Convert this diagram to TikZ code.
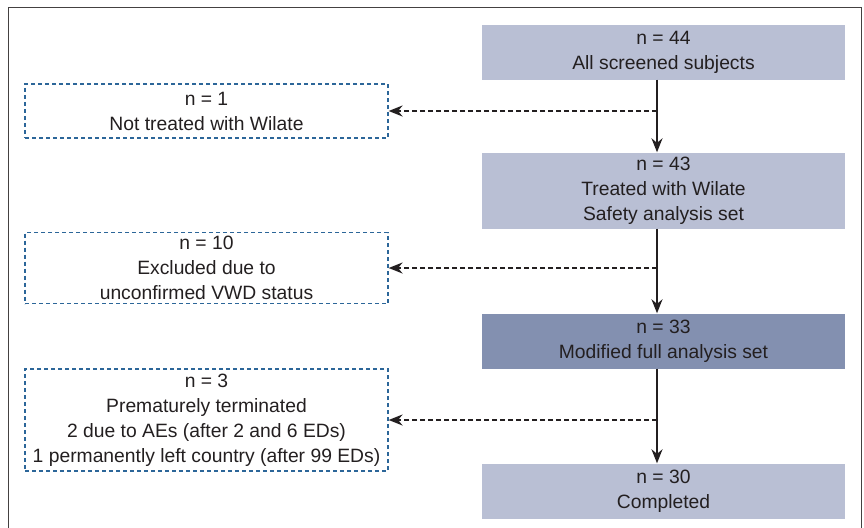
\documentclass[tikz,border=0pt]{standalone}
\usepackage{fontspec}
\setmainfont{Liberation Sans}
\usetikzlibrary{arrows.meta}
\definecolor{boxlight}{HTML}{B9BFD4}
\definecolor{boxdark}{HTML}{8390B0}
\definecolor{dashblue}{HTML}{2C6699}
\definecolor{ink}{HTML}{231F20}
\tikzset{
  mainbox/.style={fill=boxlight, draw=none, minimum width=363pt, align=center, inner sep=0pt, text=ink, font=\fontsize{19.3}{25}\selectfont},
  exclbox/.style={draw=dashblue, line width=1.2pt, dash pattern=on 4pt off 3pt, minimum width=363pt, align=center, inner sep=0pt, text=ink, font=\fontsize{19.3}{25}\selectfont},
  flow/.style={draw=ink, line width=1.8pt, -{Stealth[length=14pt,width=11pt]}},
  excl/.style={draw=ink, line width=1.8pt, dash pattern=on 5pt off 3pt, -{Stealth[length=14pt,width=11pt]}},
}
\begin{document}
\begin{tikzpicture}[x=1pt,y=-1pt]
\useasboundingbox (0,0) rectangle (864,527);
\draw[draw=ink!85, line width=1pt] (8,540) -- (8,8) -- (861,8) -- (861,540);
\coordinate (spine) at (657,0);
\node[mainbox, minimum height=54pt] (b1) at (663.5,52.5) {n = 44\\All screened subjects};
\node[mainbox, minimum height=76pt] (b2) at (663.5,190.5) {n = 43\\Treated with Wilate\\Safety analysis set};
\node[mainbox, fill=boxdark, minimum height=55pt] (b3) at (663.5,341) {n = 33\\Modified full analysis set};
\node[mainbox, minimum height=55pt] (b4) at (663.5,491) {n = 30\\Completed};
\node[exclbox, minimum height=54pt] (e1) at (206.5,111) {n = 1\\Not treated with Wilate};
\node[exclbox, minimum height=71pt] (e2) at (206.5,268) {n = 10\\Excluded due to\\unconfirmed VWD status};
\node[exclbox, minimum height=102pt] (e3) at (206.5,420) {n = 3\\Prematurely terminated\\2 due to AEs (after 2 and 6 EDs)\\1 permanently left country (after 99 EDs)};
\draw[flow] (b1.south -| spine) -- (b2.north -| spine);
\draw[flow] (b2.south -| spine) -- (b3.north -| spine);
\draw[flow] (b3.south -| spine) -- (b4.north -| spine);
\draw[excl] (e1.east -| spine) -- (e1.east);
\draw[excl] (e2.east -| spine) -- (e2.east);
\draw[excl] (e3.east -| spine) -- (e3.east);
\end{tikzpicture}
\end{document}
